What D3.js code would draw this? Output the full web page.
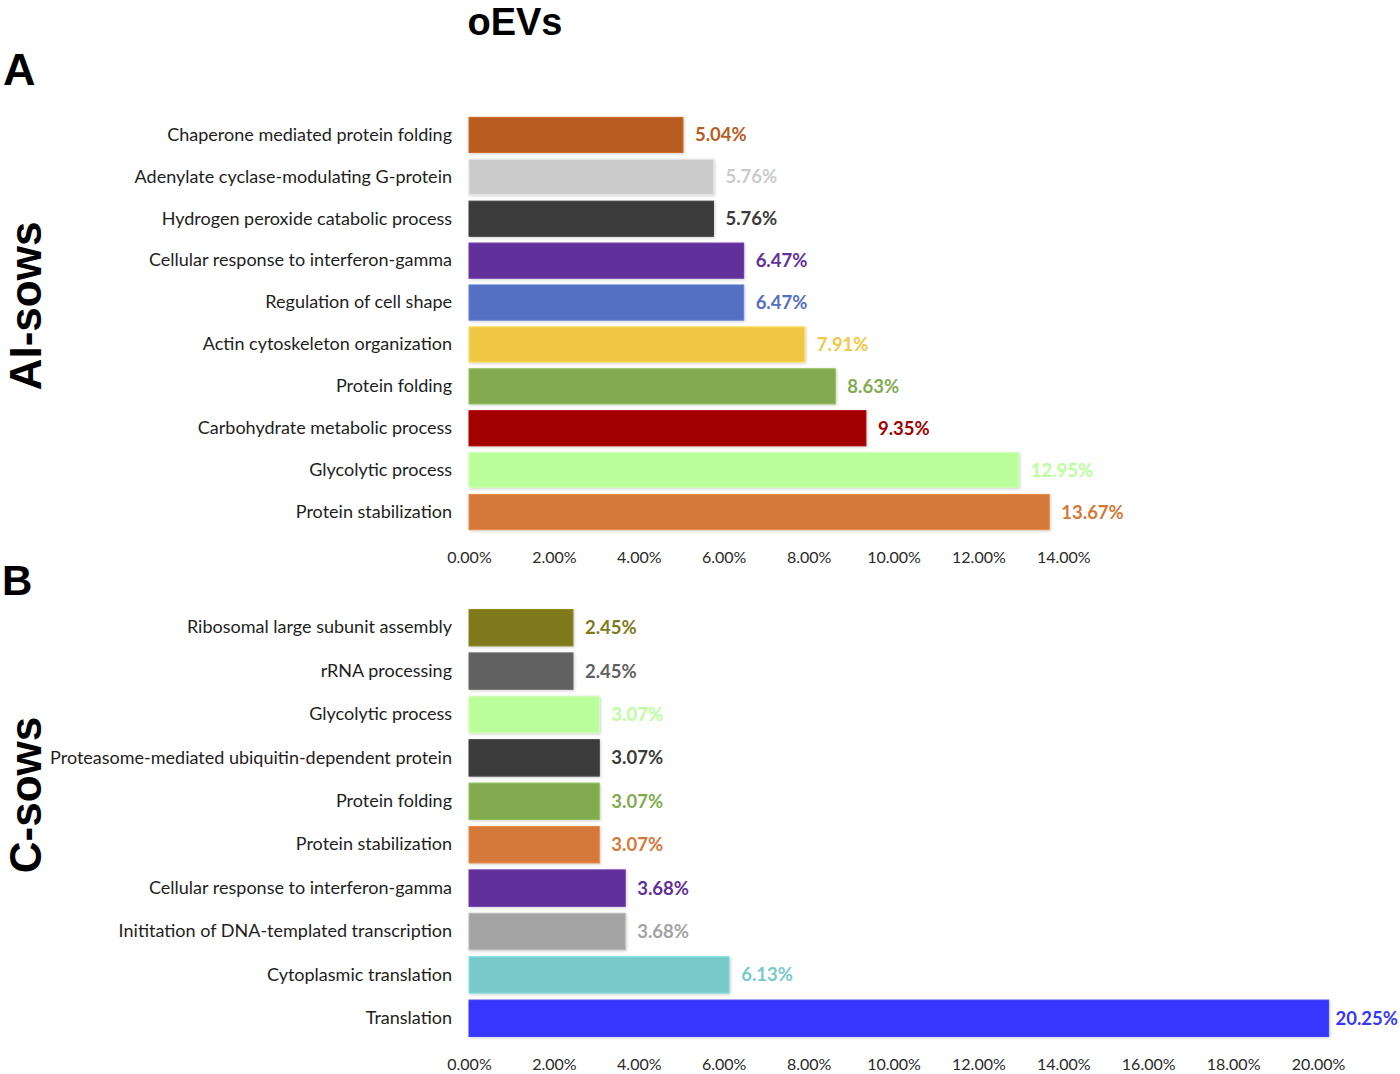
<!DOCTYPE html>
<html>
<head>
<meta charset="utf-8">
<script src="https://cdn.jsdelivr.net/npm/d3@7"></script>
<style>
  html, body { margin: 0; padding: 0; background: #fff; }
  svg { display: block; }
</style>
</head>
<body>
<svg id="chart" width="1400" height="1074"></svg>
<script>
// ---- Data ----
const categoriesA = [
  "Chaperone mediated protein folding",
  "Adenylate cyclase-modulating G-protein",
  "Hydrogen peroxide catabolic process",
  "Cellular response to interferon-gamma",
  "Regulation of cell shape",
  "Actin cytoskeleton organization",
  "Protein folding",
  "Carbohydrate metabolic process",
  "Glycolytic process",
  "Protein stabilization"
];
const valuesA = [5.04, 5.76, 5.76, 6.47, 6.47, 7.91, 8.63, 9.35, 12.95, 13.67];
const ticksA = [0, 2, 4, 6, 8, 10, 12, 14];

const categoriesB = [
  "Ribosomal large subunit assembly",
  "rRNA processing",
  "Glycolytic process",
  "Proteasome-mediated ubiquitin-dependent protein",
  "Protein folding",
  "Protein stabilization",
  "Cellular response to interferon-gamma",
  "Inititation of DNA-templated transcription",
  "Cytoplasmic translation",
  "Translation"
];
const valuesB = [2.45, 2.45, 3.07, 3.07, 3.07, 3.07, 3.68, 3.68, 6.13, 20.25];
const ticksB = [0, 2, 4, 6, 8, 10, 12, 14, 16, 18, 20];

// ---- Styles ----
const paletteA = ["#B85C1F", "#CBCBCB", "#3B3B3B", "#62309A", "#5470C2", "#F1C846",
                  "#82AB50", "#A20000", "#BAFF9C", "#D4793A"];
const paletteB = ["#7E7A1C", "#616161", "#BAFF9C", "#3B3B3B", "#82AB50", "#D4793A",
                  "#62309A", "#A3A3A3", "#78CACA", "#3636FF"];

const svg = d3.select("#chart");
const W = 1400;
const FONT = "Lato, 'Open Sans', sans-serif";
const BOLDFONT = "'Liberation Sans', Arial, sans-serif";

// Title and panel letters
svg.append("text").attr("x", 515).attr("y", 35).attr("text-anchor", "middle")
  .attr("font-family", BOLDFONT).attr("font-weight", 700).attr("font-size", 38)
  .attr("fill", "#000").text("oEVs");
svg.append("text").attr("x", 3).attr("y", 85)
  .attr("font-family", BOLDFONT).attr("font-weight", 700).attr("font-size", 45)
  .attr("fill", "#000").text("A");
svg.append("text").attr("x", 2).attr("y", 595)
  .attr("font-family", BOLDFONT).attr("font-weight", 700).attr("font-size", 42)
  .attr("fill", "#000").text("B");

function sideLabel(text, cy) {
  svg.append("text")
    .attr("transform", `translate(41,${cy}) rotate(-90)`)
    .attr("text-anchor", "middle")
    .attr("font-family", BOLDFONT)
    .attr("font-weight", 700).attr("font-size", 44)
    .attr("fill", "#000").text(text);
}
sideLabel("AI-sows", 306);
sideLabel("C-sows", 795);

function panel(cats, vals, palette, ticks, yRange, xMax, axisY) {
  const x = d3.scaleLinear().domain([0, xMax]).range([469, 469 + 42.45 * xMax]);
  const y = d3.scaleBand().domain(cats).range(yRange).paddingInner(0.16).paddingOuter(0.08);
  const g = svg.append("g");

  // Bars
  g.selectAll("rect.bar").data(cats).join("rect")
    .attr("class", "bar")
    .attr("x", x(0))
    .attr("y", d => y(d))
    .attr("width", (d, i) => x(vals[i]) - x(0))
    .attr("height", y.bandwidth())
    .attr("fill", (d, i) => palette[i])
    .attr("stroke", (d, i) => d3.color(palette[i]).brighter(0.35))
    .attr("stroke-width", 1)
    .style("filter", "drop-shadow(1px 1px 1.5px rgba(0,0,0,0.18))");

  // Category labels
  const yAxis = d3.axisLeft(y).tickSize(0).tickPadding(17);
  const ya = g.append("g").attr("transform", `translate(${x(0)},0)`).call(yAxis);
  ya.select(".domain").remove();
  ya.selectAll("text")
    .attr("font-family", FONT).attr("font-size", 18).attr("fill", "#1e1e1e");

  // Value labels
  g.selectAll("text.val").data(cats).join("text")
    .attr("class", "val")
    .attr("y", d => y(d) + y.bandwidth() / 2)
    .attr("dy", "0.35em")
    .attr("font-family", FONT).attr("font-weight", 700).attr("font-size", 18.5)
    .attr("fill", (d, i) => palette[i])
    .text((d, i) => vals[i].toFixed(2) + "%")
    .each(function(d, i) {
      const w = this.getComputedTextLength();
      const xs = Math.min(x(vals[i]) + 12, W - 2 - w);
      d3.select(this).attr("x", Math.max(xs, x(vals[i]) + 2));
    });

  // X axis
  const xAxis = d3.axisBottom(x).tickValues(ticks).tickSize(0).tickPadding(0)
    .tickFormat(d => d3.format(".2f")(d) + "%");
  const xa = g.append("g").attr("transform", `translate(0,${axisY})`).call(xAxis);
  xa.select(".domain").remove();
  xa.selectAll("text")
    .attr("font-family", FONT).attr("font-size", 16).attr("fill", "#2a2a2a")
    .attr("dy", "0.35em").attr("y", 0);
}

panel(categoriesA, valuesA, paletteA, ticksA, [114, 533], 14, 557);
panel(categoriesB, valuesB, paletteB, ticksB, [606, 1040], 20, 1064);
</script>
</body>
</html>
